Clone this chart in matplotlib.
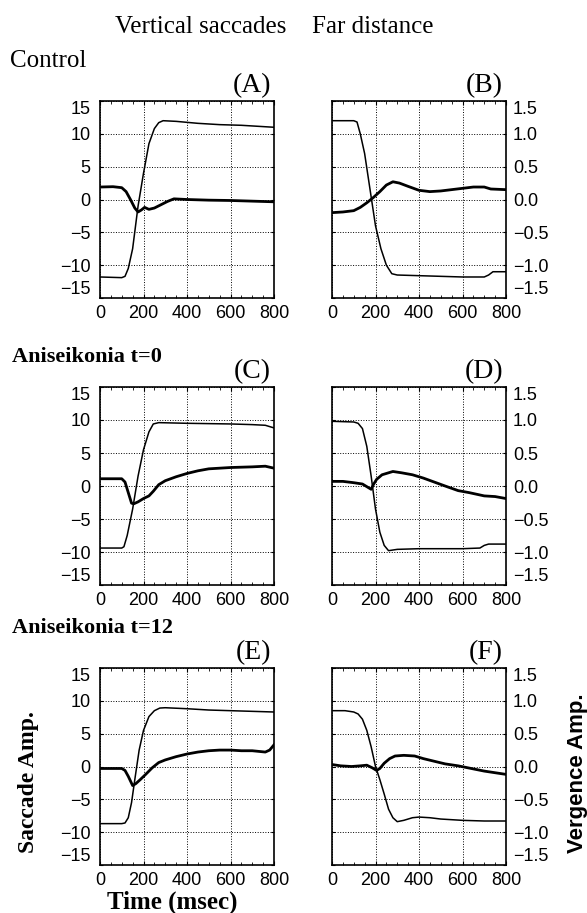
import numpy as np
import matplotlib
import matplotlib.pyplot as plt
from matplotlib.ticker import MultipleLocator
matplotlib.use('Agg')

# time points (msec) and traces
# (A) control, saccade scale
t_a_sac = [0, 100, 115, 130, 150, 175, 200, 225, 250, 270, 290, 350, 450, 550, 650, 750, 800]
a_sac = [-11.8, -11.9, -11.7, -10.5, -7.5, -1.0, 4.0, 8.5, 10.8, 11.7, 12.0, 11.9, 11.6, 11.4, 11.3, 11.1, 11.0]
t_a_ver = [0, 60, 100, 120, 140, 160, 175, 190, 205, 225, 250, 280, 310, 340, 400, 500, 600, 700, 800]
a_ver = [1.9, 1.95, 1.8, 1.2, 0.0, -1.3, -1.9, -1.6, -1.2, -1.5, -1.3, -0.8, -0.3, 0.1, 0.0, -0.1, -0.15, -0.25, -0.35]

# (B) control, vergence scale
t_b_sac = [0, 100, 115, 130, 150, 175, 200, 225, 250, 275, 300, 400, 500, 600, 700, 720, 740, 800]
b_sac = [1.2, 1.2, 1.18, 1.0, 0.7, 0.15, -0.4, -0.75, -1.0, -1.13, -1.15, -1.16, -1.17, -1.18, -1.18, -1.15, -1.1, -1.1]
t_b_ver = [0, 50, 100, 130, 160, 190, 220, 250, 280, 310, 350, 400, 450, 500, 550, 600, 650, 700, 730, 800]
b_ver = [-0.2, -0.19, -0.17, -0.12, -0.05, 0.03, 0.12, 0.22, 0.27, 0.25, 0.2, 0.14, 0.12, 0.13, 0.15, 0.17, 0.19, 0.19, 0.16, 0.15]

# (C) aniseikonia t=0, saccade scale
t_c_sac = [0, 100, 110, 125, 150, 175, 200, 225, 245, 270, 400, 600, 700, 760, 800]
c_sac = [-9.4, -9.4, -9.2, -7.5, -3.5, 1.5, 5.5, 8.2, 9.4, 9.6, 9.5, 9.4, 9.3, 9.2, 8.8]
t_c_ver = [0, 100, 115, 130, 145, 155, 175, 200, 225, 245, 270, 300, 350, 400, 450, 500, 600, 700, 760, 800]
c_ver = [1.1, 1.1, 0.6, -1.0, -2.6, -2.7, -2.4, -1.9, -1.5, -0.8, 0.2, 0.8, 1.4, 1.9, 2.3, 2.6, 2.8, 2.9, 3.0, 2.7]

# (D) aniseikonia t=0, vergence scale
t_d_sac = [0, 100, 120, 140, 160, 180, 200, 220, 240, 260, 300, 400, 500, 600, 680, 700, 720, 800]
d_sac = [0.98, 0.97, 0.95, 0.87, 0.6, 0.15, -0.35, -0.7, -0.9, -0.98, -0.96, -0.95, -0.95, -0.95, -0.94, -0.9, -0.88, -0.88]
t_d_ver = [0, 50, 100, 140, 165, 180, 190, 205, 230, 260, 280, 320, 370, 420, 470, 520, 580, 630, 700, 750, 800]
d_ver = [0.07, 0.07, 0.05, 0.03, -0.02, -0.05, 0.02, 0.1, 0.17, 0.2, 0.22, 0.2, 0.17, 0.12, 0.06, 0.0, -0.07, -0.1, -0.15, -0.16, -0.19]

# (E) aniseikonia t=12, saccade scale
t_e_sac = [0, 100, 115, 130, 145, 160, 180, 200, 225, 250, 275, 300, 400, 500, 600, 700, 800]
e_sac = [-8.7, -8.7, -8.6, -7.8, -5.5, -2.0, 2.5, 5.5, 7.6, 8.5, 8.9, 8.95, 8.8, 8.6, 8.5, 8.4, 8.3]
t_e_ver = [0, 100, 115, 130, 150, 165, 185, 210, 240, 270, 300, 350, 400, 450, 500, 550, 600, 650, 700, 760, 780, 800]
e_ver = [-0.3, -0.3, -0.6, -1.5, -2.9, -2.6, -2.0, -1.2, -0.2, 0.6, 1.0, 1.5, 1.9, 2.2, 2.4, 2.5, 2.5, 2.4, 2.4, 2.2, 2.5, 3.3]

# (F) aniseikonia t=12, vergence scale
t_f_sac = [0, 60, 100, 120, 140, 160, 180, 200, 220, 240, 260, 280, 300, 330, 370, 400, 450, 500, 600, 700, 800]
f_sac = [0.85, 0.85, 0.83, 0.8, 0.72, 0.55, 0.3, 0.0, -0.2, -0.42, -0.65, -0.78, -0.84, -0.82, -0.78, -0.77, -0.78, -0.8, -0.82, -0.83, -0.83]
t_f_ver = [0, 40, 90, 130, 160, 185, 205, 220, 240, 265, 290, 330, 380, 420, 470, 520, 580, 640, 700, 760, 800]
f_ver = [0.03, 0.01, 0.0, 0.01, 0.02, -0.02, -0.06, -0.03, 0.05, 0.12, 0.16, 0.17, 0.16, 0.12, 0.08, 0.04, 0.01, -0.03, -0.07, -0.1, -0.12]

x_ticks = [0, 200, 400, 600, 800]
sac_ticks = [-15, -10, -5, 0, 5, 10, 15]
sac_labels = ['\u221215', '\u221210', '\u22125', '0', '5', '10', '15']
ver_ticks = [-1.5, -1.0, -0.5, 0.0, 0.5, 1.0, 1.5]
ver_labels = ['\u22121.5', '\u22121.0', '\u22120.5', '0.0', '0.5', '1.0', '1.5']

panel_letters = ['(A)', '(B)', '(C)', '(D)', '(E)', '(F)']
row_titles = ['Control', 'Aniseikonia t=0', 'Aniseikonia t=12']

W, H = 587, 913
fig = plt.figure(figsize=(W / 100, H / 100), dpi=100)

SERIF = 'Liberation Serif'
SANS = 'Liberation Sans'


def fx(px):
    return px / W


def fy(py):
    return 1 - py / H


col_px = [(100, 274), (332, 506)]
row_px = [(101, 298), (387, 585), (668, 865)]

traces = [
    (t_a_sac, a_sac, t_a_ver, a_ver),
    (t_b_sac, b_sac, t_b_ver, b_ver),
    (t_c_sac, c_sac, t_c_ver, c_ver),
    (t_d_sac, d_sac, t_d_ver, d_ver),
    (t_e_sac, e_sac, t_e_ver, e_ver),
    (t_f_sac, f_sac, t_f_ver, f_ver),
]

for i, (ts, s, tv, v) in enumerate(traces):
    r, c = divmod(i, 2)
    x0, x1 = col_px[c]
    y0, y1 = row_px[r]
    ax = fig.add_axes([fx(x0), fy(y1), fx(x1) - fx(x0), (y1 - y0) / H])
    ax.plot(ts, s, color='black', lw=1.1)
    ax.plot(tv, v, color='black', lw=2.0)
    ax.set_xlim(0, 800)
    ax.set_xticks(x_ticks)
    ax.xaxis.set_minor_locator(MultipleLocator(50))
    if c == 0:
        ax.set_ylim(-15, 15)
        ax.set_yticks(sac_ticks)
        ax.set_yticklabels(sac_labels)
        ax.tick_params(axis='y', which='both', direction='in', length=2,
                       left=True, right=True, pad=7, labelsize=13)
        labs = [t.label1 for t in ax.yaxis.get_major_ticks()]
    else:
        ax.set_ylim(-1.5, 1.5)
        ax.set_yticks(ver_ticks)
        ax.set_yticklabels(ver_labels)
        ax.tick_params(axis='y', which='both', direction='in', length=2,
                       left=True, right=True, labelleft=False, labelright=True,
                       pad=5, labelsize=13)
        labs = [t.label2 for t in ax.yaxis.get_major_ticks()]
    labs[0].set_va('bottom')
    labs[-1].set_va('top')
    for lab in ax.get_yticklabels() + ax.get_xticklabels():
        lab.set_fontfamily(SANS)
    ax.tick_params(axis='x', which='major', direction='in', length=3,
                   top=True, bottom=True, pad=5, labelsize=13)
    ax.tick_params(axis='x', which='minor', direction='in', length=2,
                   top=True, bottom=True)
    ax.grid(True, which='major', color='black', linestyle=':', lw=0.7)
    for sp in ax.spines.values():
        sp.set_linewidth(1.2)

    # panel letter
    fig.text(fx(x1 - 3), fy(y0 - 9), panel_letters[i], ha='right', va='baseline',
             fontsize=20, family=SERIF)

# row titles
fig.text(fx(10), fy(67), row_titles[0], ha='left', va='baseline',
         fontsize=18, family=SERIF)
fig.text(fx(12), fy(362), row_titles[1], ha='left', va='baseline',
         fontsize=16, family=SERIF, fontweight='bold')
fig.text(fx(12), fy(633), row_titles[2], ha='left', va='baseline',
         fontsize=16, family=SERIF, fontweight='bold')

# header
fig.text(fx(115), fy(33), 'Vertical saccades', ha='left', va='baseline',
         fontsize=18, family=SERIF)
fig.text(fx(312), fy(33), 'Far distance', ha='left', va='baseline',
         fontsize=18, family=SERIF)

# axis labels
fig.text(fx(172), fy(909), 'Time (msec)', ha='center', va='baseline',
         fontsize=18, family=SERIF, fontweight='bold')
fig.text(fx(29), fy(782), 'Saccade Amp.', ha='center', va='center',
         rotation=90, fontsize=17, family=SERIF, fontweight='bold')
fig.text(fx(577), fy(773), 'Vergence Amp.', ha='center', va='center',
         rotation=90, fontsize=16, family=SANS, fontweight='bold')

fig.savefig('out.png', dpi=100)
